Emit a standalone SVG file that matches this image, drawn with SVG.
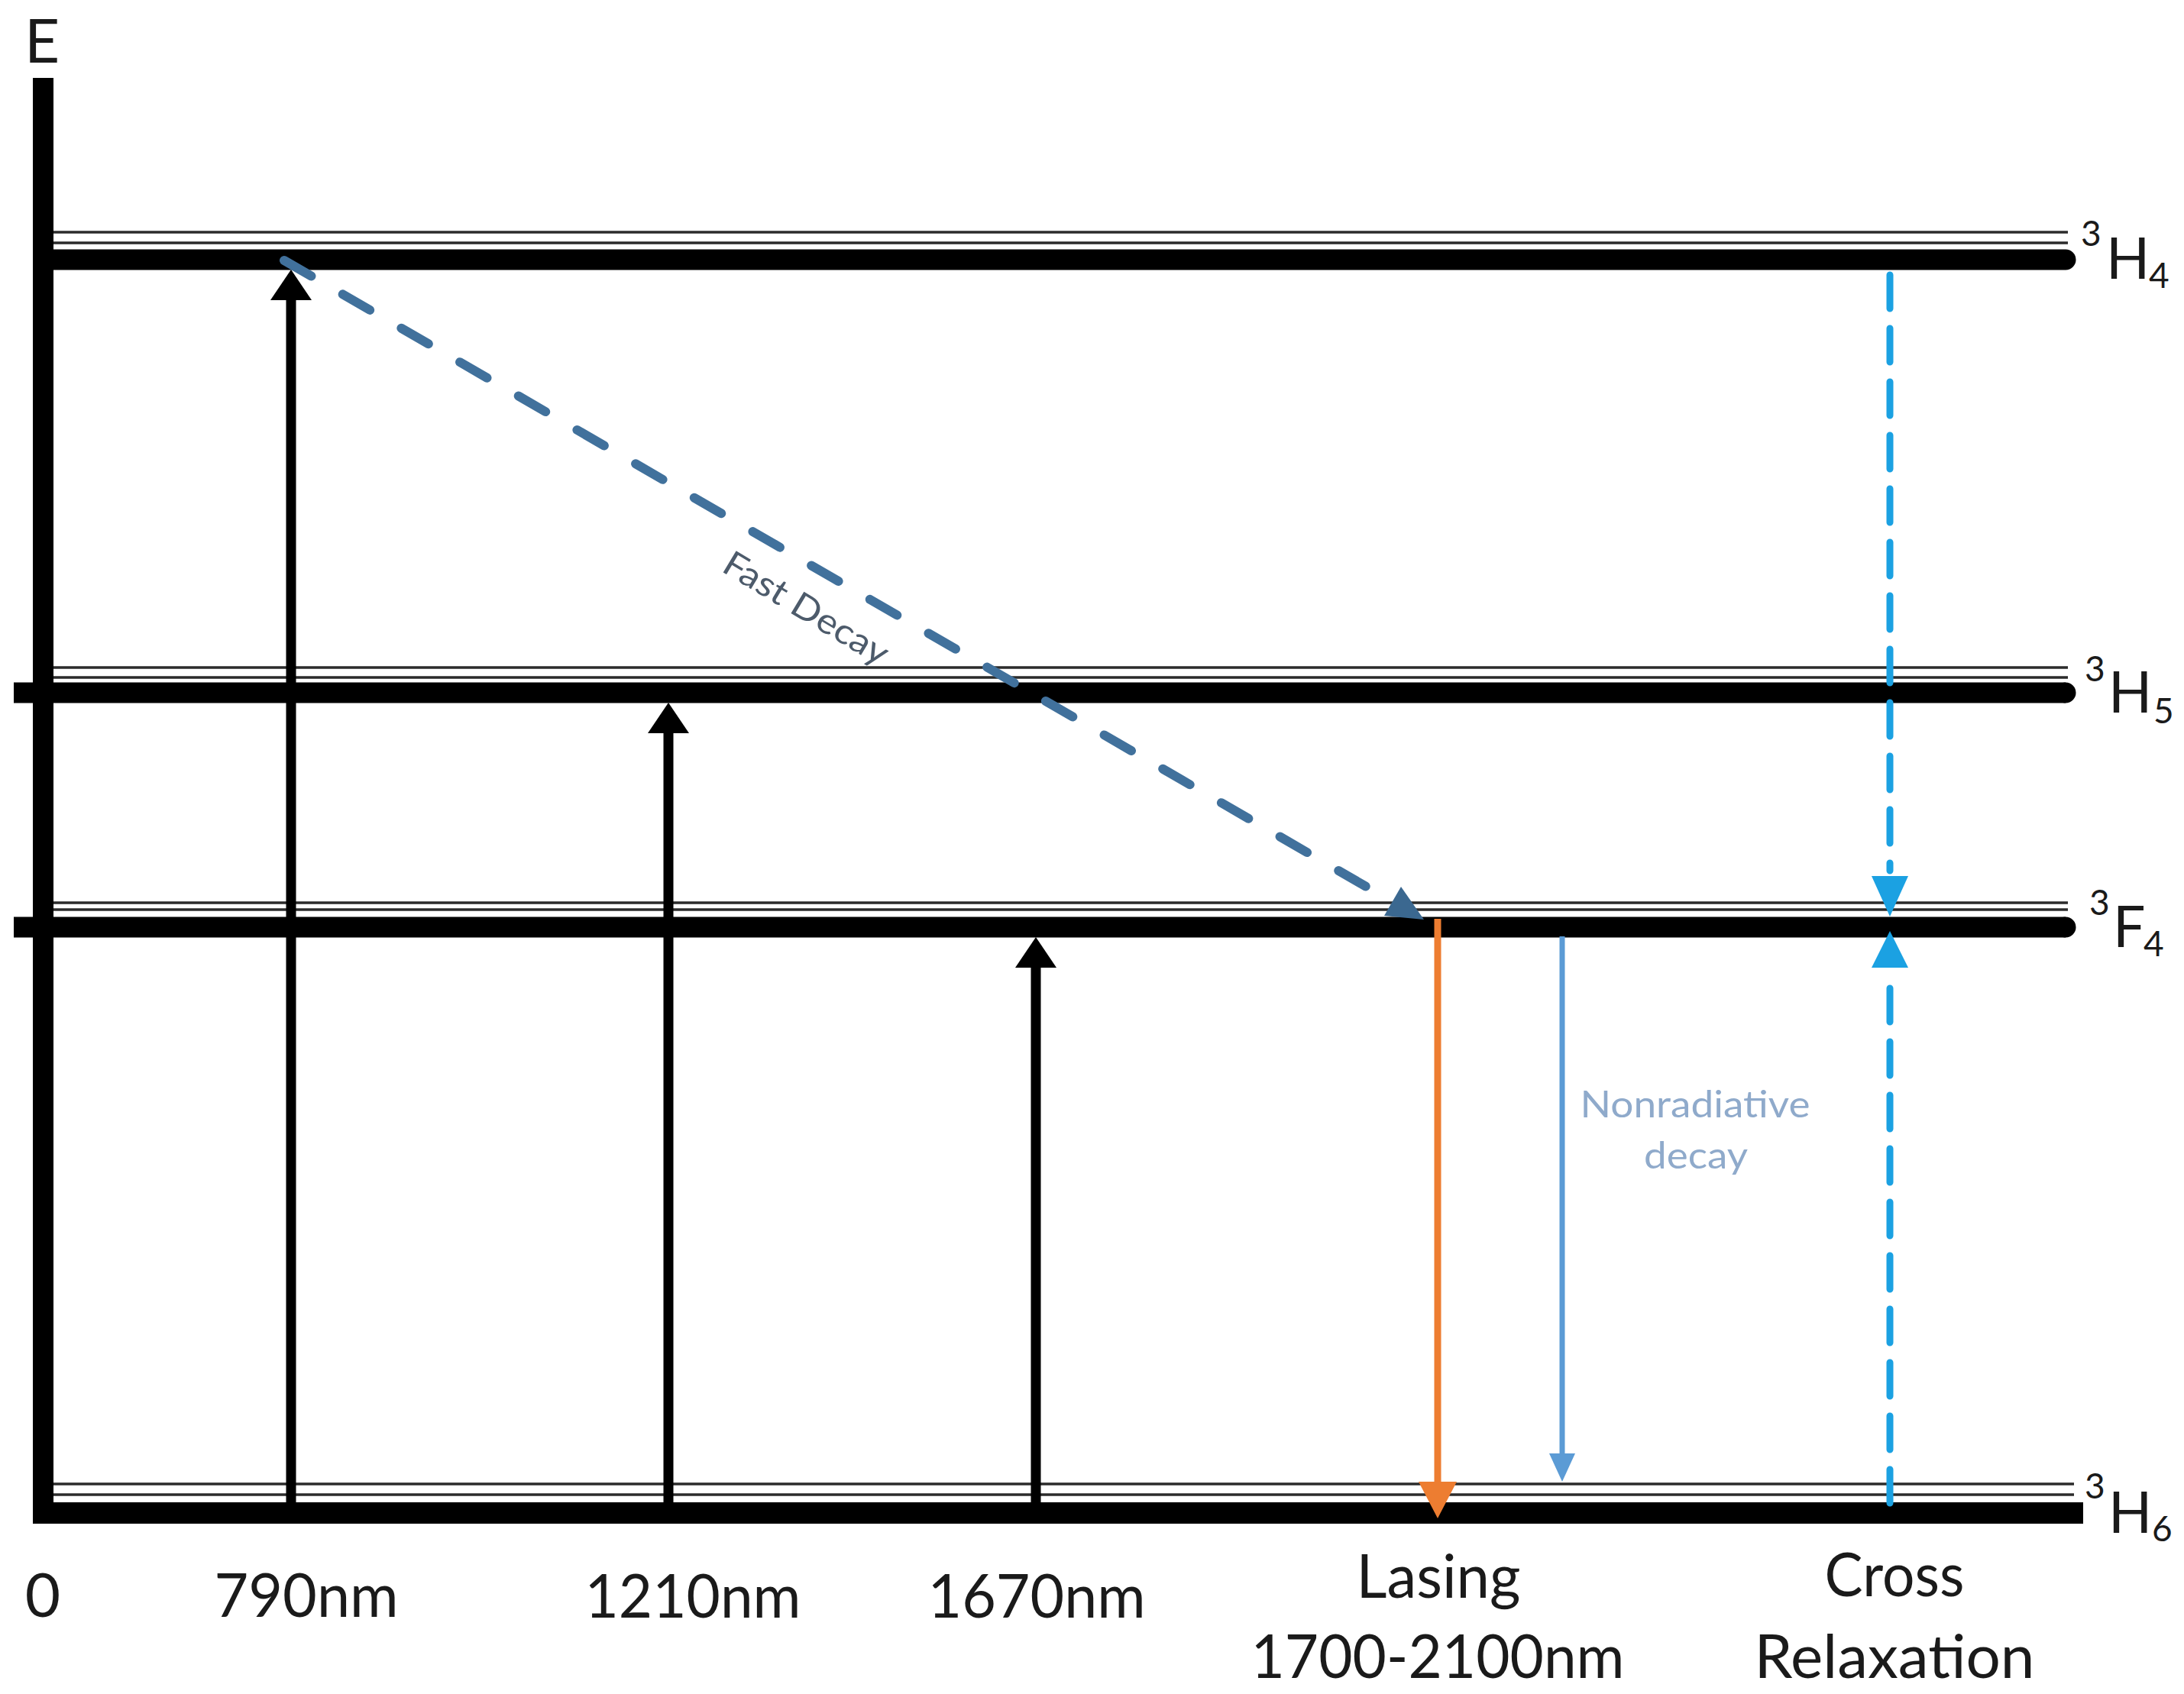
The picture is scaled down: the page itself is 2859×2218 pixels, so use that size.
<svg xmlns="http://www.w3.org/2000/svg" width="2859" height="2218" viewBox="0 0 2859 2218">
<style>
text{font-family:Lato,"Liberation Sans",sans-serif;fill:#1a1a1a}
.lbl{font-size:80px}
.lvl{font-size:75px}
.sm{font-size:46px}
.thin{stroke:#2b2b2b;stroke-width:3.5;fill:none}
.thick{stroke:#000;stroke-width:27;fill:none}
.pump{stroke:#000;stroke-width:13;fill:none}
.fast{stroke:#41719C;stroke-width:12;fill:none;stroke-linecap:round;stroke-dasharray:41 47.6}
.cross{stroke:#1BA1E2;stroke-width:9;fill:none;stroke-linecap:round;stroke-dasharray:44 26}
</style>
<rect width="2859" height="2218" fill="#fff"/>
<g id="axis">
<rect x="43" y="102" width="27" height="1893" fill="#000"/>
<text class="lbl" x="55" y="82" text-anchor="middle">E</text>
</g>
<g id="level-3H4">
<line class="thin" x1="70" y1="304" x2="2707" y2="304"/>
<line class="thin" x1="70" y1="318" x2="2707" y2="318"/>
<line class="thick" x1="70" y1="340" x2="2704" y2="340" stroke-linecap="round"/>
<text class="sm" x="2724" y="322">3</text>
<text class="lvl" x="2757" y="365">H</text>
<text class="sm" x="2813" y="377">4</text>
</g>
<g id="level-3H5">
<line class="thin" x1="70" y1="874" x2="2707" y2="874"/>
<line class="thin" x1="70" y1="887" x2="2707" y2="887"/>
<rect x="18" y="893.5" width="2686" height="27" fill="#000"/>
<circle cx="2704" cy="907" r="13.5" fill="#000"/>
<text class="sm" x="2729" y="892">3</text>
<text class="lvl" x="2760" y="933">H</text>
<text class="sm" x="2819" y="947">5</text>
</g>
<g id="level-3F4">
<line class="thin" x1="70" y1="1182" x2="2707" y2="1182"/>
<line class="thin" x1="70" y1="1191" x2="2707" y2="1191"/>
<rect x="18" y="1200.5" width="2686" height="27" fill="#000"/>
<circle cx="2704" cy="1214" r="13.5" fill="#000"/>
<text class="sm" x="2735" y="1198">3</text>
<text class="lvl" x="2766" y="1240">F</text>
<text class="sm" x="2806" y="1252">4</text>
</g>
<g id="level-3H6">
<line class="thin" x1="70" y1="1943" x2="2715" y2="1943"/>
<line class="thin" x1="70" y1="1957" x2="2715" y2="1957"/>
<rect x="43" y="1967" width="2684" height="28" fill="#000"/>
<text class="sm" x="2729" y="1962">3</text>
<text class="lvl" x="2760" y="2007">H</text>
<text class="sm" x="2817" y="2018">6</text>
</g>
<g id="connectors">
<g id="pump-790">
<line class="pump" x1="381" y1="1980" x2="381" y2="390"/>
<polygon points="381,353 354,393 408,393" fill="#000"/>
</g>
<g id="pump-1210">
<line class="pump" x1="875" y1="1980" x2="875" y2="957"/>
<polygon points="875,920 848,960 902,960" fill="#000"/>
</g>
<g id="pump-1670">
<line class="pump" x1="1356" y1="1980" x2="1356" y2="1264"/>
<polygon points="1356,1227 1329,1267 1383,1267" fill="#000"/>
</g>
<g id="fast-decay">
<line class="fast" x1="372" y1="341" x2="1818" y2="1178"/>
<polygon points="1864,1204 1812,1199 1834,1161" fill="#3B6890"/>
<text x="1055" y="812" font-size="46" text-anchor="middle" textLength="244" lengthAdjust="spacingAndGlyphs" transform="rotate(31 1055 797)" style="fill:#4D5B6B">Fast Decay</text>
</g>
<g id="lasing">
<line x1="1882" y1="1203" x2="1882" y2="1945" stroke="#ED7D31" stroke-width="9"/>
<polygon points="1882,1988 1857,1940 1907,1940" fill="#ED7D31"/>
</g>
<g id="nonradiative">
<line x1="2045" y1="1226" x2="2045" y2="1908" stroke="#5B9BD5" stroke-width="7"/>
<polygon points="2045,1940 2028,1903 2062,1903" fill="#5B9BD5"/>
<text x="2219" y="1463" font-size="49" text-anchor="middle" textLength="301" lengthAdjust="spacingAndGlyphs" style="fill:#8FAACB">Nonradiative</text>
<text x="2220" y="1530" font-size="49" text-anchor="middle" textLength="136" lengthAdjust="spacingAndGlyphs" style="fill:#8FAACB">decay</text>
</g>
<g id="cross-relaxation">
<line class="cross" x1="2474" y1="360" x2="2474" y2="1140"/>
<polygon points="2474,1200 2450,1147 2498,1147" fill="#1BA1E2"/>
<line class="cross" x1="2474" y1="1968" x2="2474" y2="1275"/>
<polygon points="2474,1219 2450,1267 2498,1267" fill="#1BA1E2"/>
</g>
</g>
<g id="axis-labels">
<text class="lbl" x="56" y="2117" text-anchor="middle">0</text>
<text class="lbl" x="401" y="2117" text-anchor="middle" textLength="241" lengthAdjust="spacingAndGlyphs">790nm</text>
<text class="lbl" x="907" y="2118" text-anchor="middle" textLength="283" lengthAdjust="spacingAndGlyphs">1210nm</text>
<text class="lbl" x="1357" y="2118" text-anchor="middle" textLength="285" lengthAdjust="spacingAndGlyphs">1670nm</text>
<text class="lbl" x="1883" y="2092" text-anchor="middle" textLength="215" lengthAdjust="spacingAndGlyphs">Lasing</text>
<text class="lbl" x="1882" y="2197" text-anchor="middle" textLength="489" lengthAdjust="spacingAndGlyphs">1700-2100nm</text>
<text class="lbl" x="2480" y="2090" text-anchor="middle" textLength="183" lengthAdjust="spacingAndGlyphs">Cross</text>
<text class="lbl" x="2480" y="2197" text-anchor="middle" textLength="367" lengthAdjust="spacingAndGlyphs">Relaxation</text>
</g>
</svg>
